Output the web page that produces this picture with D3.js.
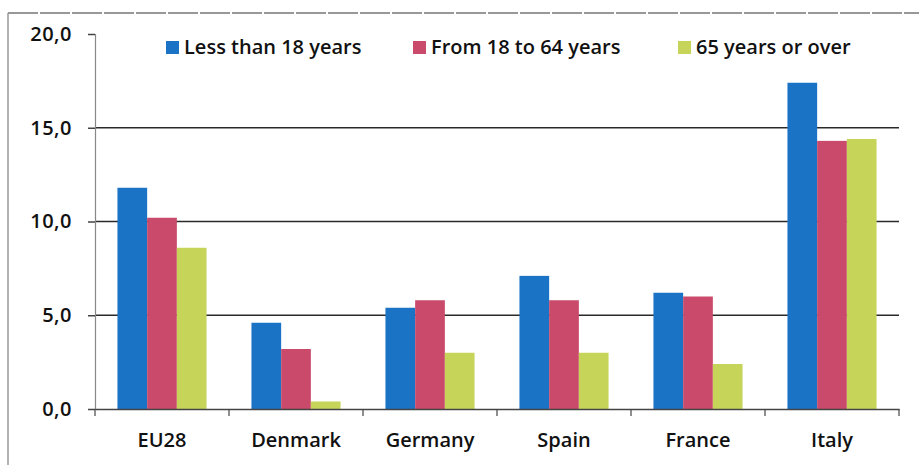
<!DOCTYPE html>
<html>
<head>
<meta charset="utf-8">
<script src="https://cdn.jsdelivr.net/npm/d3@7"></script>
<style>
  body { margin: 0; background: #fff; }
  text { font-family: "Open Sans", Lato, sans-serif; font-weight: 600; fill: #111; }
</style>
</head>
<body>
<div id="chart"></div>
<script>
var countries = ["EU28", "Denmark", "Germany", "Spain", "France", "Italy"];
var seriesNames = ["Less than 18 years", "From 18 to 64 years", "65 years or over"];
var under18 = [11.8, 4.6, 5.4, 7.1, 6.2, 17.4];
var from18to64 = [10.2, 3.2, 5.8, 5.8, 6.0, 14.3];
var over65 = [8.6, 0.4, 3.0, 3.0, 2.4, 14.4];
var yTicks = [0, 5, 10, 15, 20];

var colors = ["#1b73c6", "#c94a6b", "#c7d45a"];

var width = 919, height = 465;
var margin = {top: 34, right: 20, bottom: 56, left: 95};

var svg = d3.select("#chart").append("svg")
  .attr("width", width)
  .attr("height", height);

// scanned page frame
svg.append("line")
  .attr("x1", 8).attr("x2", width).attr("y1", 13).attr("y2", 13)
  .attr("stroke", "#777").attr("stroke-width", 1.5)
  .attr("stroke-dasharray", "30,2");
svg.append("line")
  .attr("x1", 8).attr("x2", 8).attr("y1", 13).attr("y2", height)
  .attr("stroke", "#999").attr("stroke-width", 1.5);

var x0 = d3.scaleBand()
  .domain(countries)
  .range([margin.left, 899])
  .paddingInner(0.335)
  .paddingOuter(0.1675);

var x1 = d3.scaleBand()
  .domain(d3.range(3))
  .range([0, x0.bandwidth()]);

var y = d3.scaleLinear()
  .domain([0, 20])
  .range([409, margin.top]);

// grid lines
svg.append("g")
  .selectAll("line")
  .data(yTicks.filter(function(d){ return d > 0 && d < 20; }))
  .enter().append("line")
  .attr("x1", margin.left).attr("x2", 899)
  .attr("y1", function(d){ return y(d); })
  .attr("y2", function(d){ return y(d); })
  .attr("stroke", "#2a2a2a")
  .attr("stroke-width", 1.6);

// y axis
var yAxis = svg.append("g")
  .attr("transform", "translate(" + margin.left + ",0)")
  .call(d3.axisLeft(y).tickValues(yTicks).tickSize(7).tickPadding(16)
    .tickFormat(function(d){ return d3.format(".1f")(d).replace(".", ","); }));
yAxis.select(".domain").attr("stroke", "#888").attr("stroke-width", 1.2);
yAxis.selectAll(".tick line").attr("stroke", "#444").attr("stroke-width", 1.5);
yAxis.selectAll("text").style("font-size", "20px").style("letter-spacing", "0.5px").attr("fill", "#111");

// bars
var rows = countries.map(function(c, i){
  return {country: c, values: [under18[i], from18to64[i], over65[i]]};
});

var groups = svg.selectAll(".group")
  .data(rows)
  .enter().append("g")
  .attr("class", "group")
  .attr("transform", function(d){ return "translate(" + x0(d.country) + ",0)"; });

groups.selectAll("rect")
  .data(function(d){ return d.values; })
  .enter().append("rect")
  .attr("x", function(d, i){ return x1(i); })
  .attr("width", x1.bandwidth())
  .attr("y", function(d){ return y(d); })
  .attr("height", function(d){ return y(0) - y(d); })
  .attr("fill", function(d, i){ return colors[i]; });

// x axis
var xAxis = svg.append("g")
  .attr("transform", "translate(0," + y(0) + ")")
  .call(d3.axisBottom(x0).tickSize(0).tickPadding(24));
xAxis.select(".domain").attr("stroke", "#444").attr("stroke-width", 1.5);
xAxis.selectAll("text").style("font-size", "20px").attr("fill", "#111");

// boundary ticks between categories
var xBreaks = d3.range(countries.length + 1).map(function(i){
  return margin.left + i * x0.step();
});
svg.append("g").selectAll("line")
  .data(xBreaks)
  .enter().append("line")
  .attr("x1", function(d){ return d; }).attr("x2", function(d){ return d; })
  .attr("y1", y(0)).attr("y2", y(0) + 7)
  .attr("stroke", "#444").attr("stroke-width", 1.2);

// legend
var legendX = [166, 413, 678];
var legend = svg.selectAll(".legend")
  .data(seriesNames)
  .enter().append("g")
  .attr("class", "legend")
  .attr("transform", function(d, i){ return "translate(" + legendX[i] + ",47)"; });

legend.append("rect")
  .attr("x", 0).attr("y", -6)
  .attr("width", 13).attr("height", 13)
  .attr("fill", function(d, i){ return colors[i]; });

legend.append("text")
  .attr("x", 18).attr("dy", "0.35em")
  .style("font-size", "20px")
  .text(function(d){ return d; });
</script>
</body>
</html>
